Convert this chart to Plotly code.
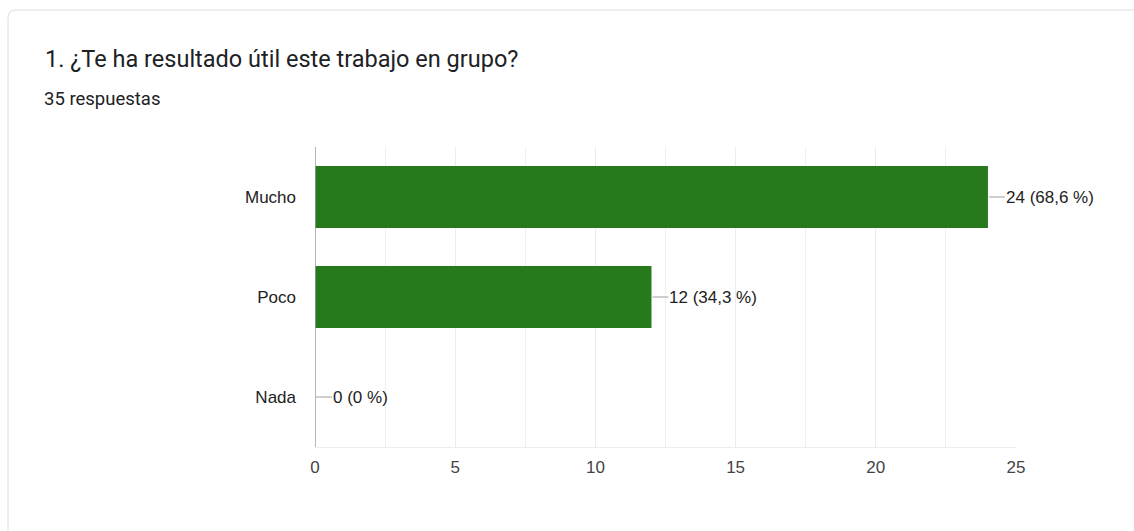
import plotly.graph_objects as go

categories = ["Mucho", "Poco", "Nada"]
counts = [24, 12, 0]
labels = ["24 (68,6 %)", "12 (34,3 %)", "0 (0 %)"]
tick_vals = [0, 5, 10, 15, 20, 25]
title_text = "1. ¿Te ha resultado útil este trabajo en grupo?"
subtitle_text = "35 respuestas"

W, H = 1134, 531
L, R, T, B = 315, 118, 147, 84
PW, PH = W - L - R, H - T - B


def px(x):
    return (x - L) / PW


def py(y):
    return (H - B - y) / PH


fig = go.Figure()
fig.add_trace(go.Bar(
    y=categories, x=counts, orientation="h",
    marker=dict(color="#277a1c", line=dict(width=0)),
    width=0.62, hoverinfo="skip",
))

shapes = []
annotations = []
for c, v, lab in zip(categories, counts, labels):
    shapes.append(dict(type="line", xref="x", yref="y", xsizemode="pixel", xanchor=v,
                       x0=1, x1=17, y0=c, y1=c, line=dict(color="#9e9e9e", width=1)))
    annotations.append(dict(x=v, y=c, xref="x", yref="y", text=lab, showarrow=False,
                            xanchor="left", yanchor="middle", xshift=16,
                            font=dict(family="Arial, Liberation Sans", size=17, color="#222222")))

# card border with rounded corners
r = 8
x0, y0, x1, y1 = 8, 10, 1140, 540
path = (f"M {px(x0)},{py(y0 + r)} "
        f"Q {px(x0)},{py(y0)} {px(x0 + r)},{py(y0)} "
        f"L {px(x1)},{py(y0)} L {px(x1)},{py(y1)} L {px(x0)},{py(y1)} Z")
shapes.append(dict(type="path", xref="paper", yref="paper", path=path,
                   line=dict(color="#dadce0", width=1), layer="below"))

annotations.append(dict(x=px(43), y=py(59), xref="paper", yref="paper", text=title_text,
                        showarrow=False, xanchor="left", yanchor="middle",
                        font=dict(family="Roboto", size=23.5, color="#202124")))
annotations.append(dict(x=px(42), y=py(99), xref="paper", yref="paper", text=subtitle_text,
                        showarrow=False, xanchor="left", yanchor="middle",
                        font=dict(family="Roboto", size=18.5, color="#202124")))

fig.update_layout(
    width=W, height=H,
    margin=dict(l=L, r=R, t=T, b=B),
    paper_bgcolor="white", plot_bgcolor="white",
    showlegend=False,
    shapes=shapes, annotations=annotations,
    xaxis=dict(range=[0, 25], tickvals=tick_vals, showgrid=True, gridcolor="#ececec",
               gridwidth=1, zeroline=False, showline=True, linecolor="#ececec",
               ticks="", ticklabelstandoff=5,
               tickfont=dict(family="Arial, Liberation Sans", size=17, color="#444444"),
               minor=dict(dtick=2.5, tick0=0, showgrid=True, gridcolor="#efefef", gridwidth=1),
               fixedrange=True),
    yaxis=dict(autorange="reversed", showgrid=False, zeroline=False, showline=False,
               ticks="", ticklabelstandoff=18,
               tickfont=dict(family="Arial, Liberation Sans", size=17, color="#222222"),
               fixedrange=True),
)
fig.add_shape(type="line", xref="x", yref="paper", x0=0, x1=0, y0=0, y1=1,
              line=dict(color="#9e9e9e", width=1.5))

fig.write_html("out.html", config={"displayModeBar": False})
